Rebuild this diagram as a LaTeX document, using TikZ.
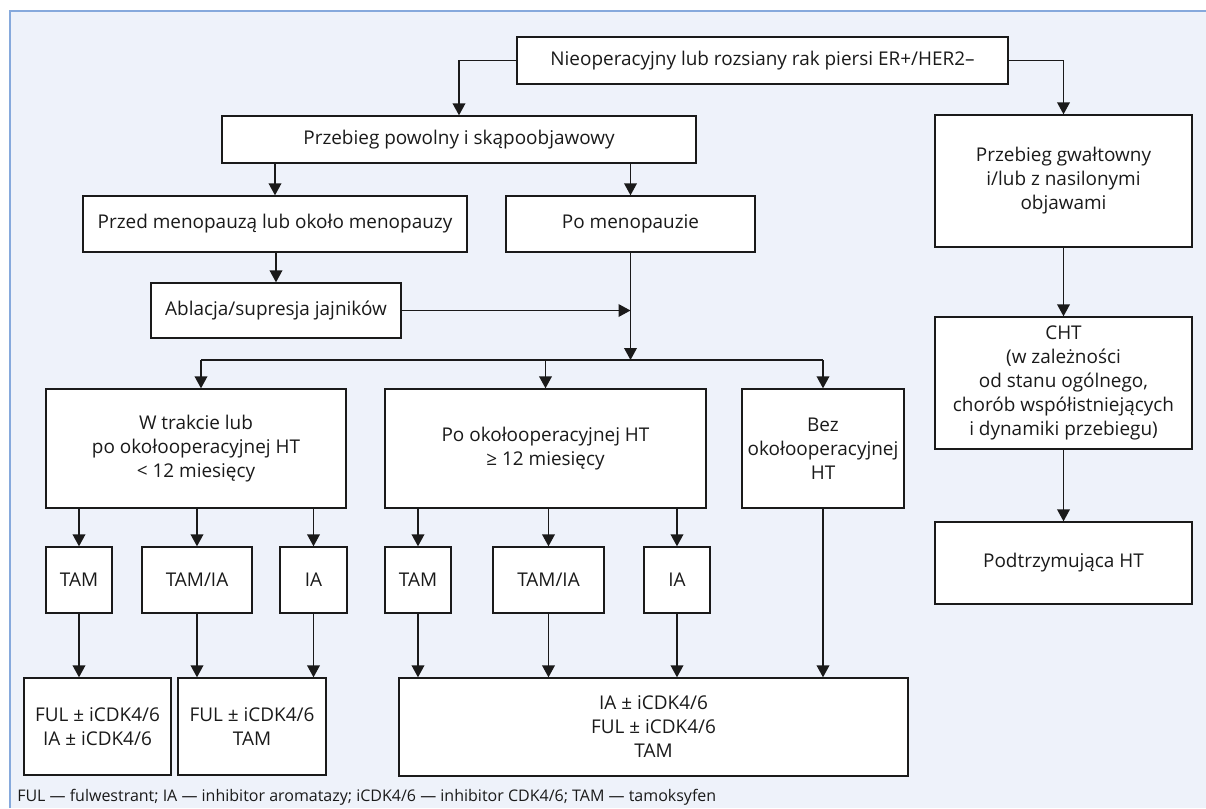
\documentclass[tikz,border=0pt]{standalone}
\usepackage{fontspec}
\setmainfont{Open Sans}
\usetikzlibrary{arrows.meta}
\definecolor{bg}{HTML}{EEF2FA}
\definecolor{framec}{HTML}{86A9DC}
\definecolor{ink}{HTML}{1A1A1A}
\newcommand\bx[6]{\node[box,minimum width={(#4-#2)*0.75},minimum height={(#5-#3)*0.75}] (#1) at ({(#2+#4)/2},{(#3+#5)/2}) {#6};}
\tikzset{
  box/.style={draw=ink,line width=1pt,fill=white,align=center,inner sep=0pt,text=ink,
    font=\fontsize{14.2}{18}\selectfont},
  ln/.style={draw=ink,line width=1.1pt},
  arr/.style={ln,-{Triangle[width=9.5pt,length=9pt]}},
}
\begin{document}
\begin{tikzpicture}[x=0.75pt,y=-0.75pt]
\useasboundingbox (0,0) rectangle (1206,808);
\fill[white] (0,0) rectangle (1206,808);
\fill[bg] (10,11) rectangle (1206,808);
\draw[framec,line width=1.2pt] (10,808) -- (10,11) -- (1206,11);

\bx{top}{517}{37}{1008}{84}{Nieoperacyjny lub rozsiany rak piersi ER+/HER2–}
\bx{slow}{222}{116}{696}{163}{Przebieg powolny i skąpoobjawowy}
\bx{przed}{83}{196}{467}{252}{Przed menopauzą lub około menopauzy}
\bx{po}{506}{196}{755}{252}{Po menopauzie}
\bx{abl}{151}{283}{401}{338}{Ablacja/supresja jajników}
\bx{fast}{935}{115}{1192}{247}{Przebieg gwałtowny\\i/lub z nasilonymi\\objawami}
\bx{cht}{935}{317}{1192}{449}{CHT\\(w zależności\\od stanu ogólnego,\\chorób współistniejących\\i dynamiki przebiegu)}
\bx{podt}{935}{522}{1192}{604}{Podtrzymująca HT}
\bx{w}{46}{389}{346}{508}{W trakcie lub\\po okołooperacyjnej HT\\< 12 miesięcy}
\bx{po12}{385}{389}{706}{508}{Po okołooperacyjnej HT\\≥ 12 miesięcy}
\bx{bez}{742}{389}{904}{508}{Bez\\okołooperacyjnej\\HT}
\bx{tama}{46}{547}{112}{613}{TAM}
\bx{tamiaa}{142}{547}{252}{613}{TAM/IA}
\bx{iaa}{280}{547}{347}{613}{IA}
\bx{tamb}{385}{547}{451}{613}{TAM}
\bx{tamiab}{493}{547}{604}{613}{TAM/IA}
\bx{iab}{644}{547}{710}{613}{IA}
\bx{ra}{24}{678}{171}{775}{FUL ± iCDK4/6\\IA ± iCDK4/6}
\bx{rb}{178}{678}{326}{775}{FUL ± iCDK4/6\\TAM}
\bx{rc}{399}{678}{908}{776}{IA ± iCDK4/6\\FUL ± iCDK4/6\\TAM}

\node[anchor=west,inner sep=0pt,text=ink,font=\fontsize{12}{14}\selectfont] (leg) at (17,797)
  {FUL — fulwestrant; IA — inhibitor aromatazy; iCDK4/6 — inhibitor CDK4/6; TAM — tamoksyfen};

% top level
\draw[arr] (top.west) -| (slow.north);
\draw[arr] (top.east) -| (fast.north);
\draw[arr] (slow.south -| przed.north) -- (przed.north);
\draw[arr] (slow.south -| po.north) -- (po.north);
\draw[arr] (przed.south) -- (przed.south -| abl.north) -- (abl.north);
\draw[arr] (abl.east) -- (abl.east -| po.south);

% junction
\coordinate (j) at (630.5,360);
\coordinate (jl) at (201,360);
\coordinate (jr) at (bez.north |- j);
\draw[arr] (po.south) -- (j);
\draw[ln] (jl) -- (jr);
\draw[arr] (jl) -- (jl |- w.north);
\draw[arr] (j -| po12.north) -- (po12.north);
\draw[arr] (jr) -- (bez.north);

% first group
\draw[arr] (w.south -| tama.north) -- (tama.north);
\draw[arr] (w.south -| tamiaa.north) -- (tamiaa.north);
\draw[arr] (w.south -| iaa.north) -- (iaa.north);
\draw[arr] (tama.south) -- (tama.south |- ra.north);
\draw[arr] (tamiaa.south) -- (tamiaa.south |- rb.north);
\draw[arr] (iaa.south) -- (iaa.south |- rb.north);

% second group
\draw[arr] (po12.south -| tamb.north) -- (tamb.north);
\draw[arr] (po12.south -| tamiab.north) -- (tamiab.north);
\draw[arr] (po12.south -| iab.north) -- (iab.north);
\draw[arr] (tamb.south) -- (tamb.south |- rc.north);
\draw[arr] (tamiab.south) -- (tamiab.south |- rc.north);
\draw[arr] (iab.south) -- (iab.south |- rc.north);
\draw[arr] (bez.south) -- (bez.south |- rc.north);

% right column
\draw[arr] (fast.south) -- (cht.north);
\draw[arr] (cht.south) -- (podt.north);
\end{tikzpicture}
\end{document}
